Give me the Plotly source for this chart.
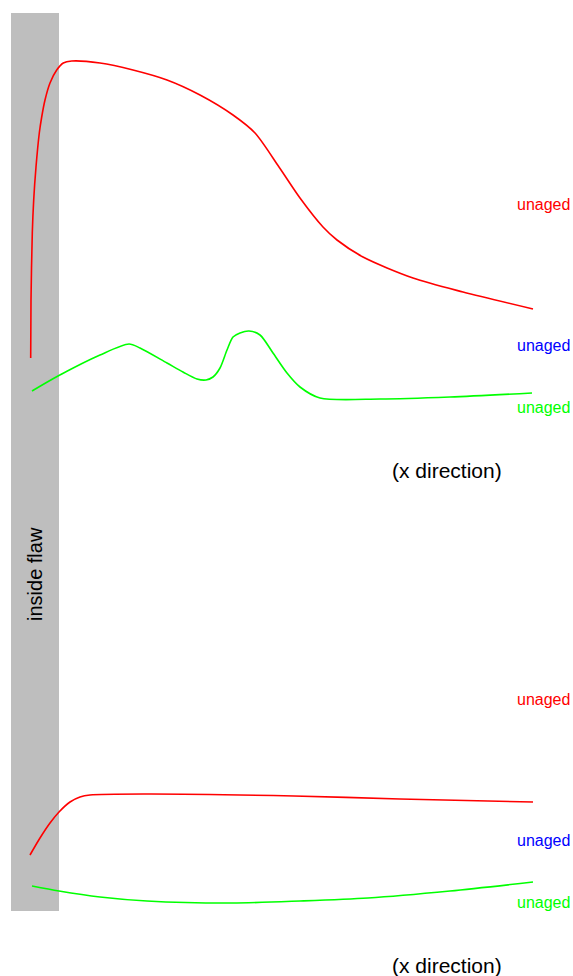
import plotly.graph_objects as go

# ---- data (units: horizontal position, vertical position with 0 at top) ----
top_red_x = [30.7, 31, 32.3, 33.7, 36, 39.3, 41.7, 45, 50, 56.7, 63.3, 71.7, 100, 133, 167, 200, 233, 255, 279, 300, 323, 337, 363, 413, 463, 533]
top_red_y = [358, 300, 233, 200, 167, 133, 117, 100, 83, 70, 63, 61, 63, 70, 80, 95, 115, 133, 167, 198, 227, 240, 257, 278, 292, 309]

top_green_x = [32, 58, 100, 129, 140, 167, 183, 197, 206, 213, 220, 227, 233, 240, 249, 260, 273, 287, 300, 320, 380, 450, 532]
top_green_y = [391, 376, 355, 344, 348, 363, 372, 379, 380, 377, 368, 350, 337, 333, 331, 335, 353, 373, 387, 398, 399, 397, 393]

bot_red_x = [30, 40, 50, 59, 70, 80, 90, 147, 294, 400, 533]
bot_red_y = [855, 838, 823, 812, 802, 797, 795, 794, 796, 799, 802]

bot_green_x = [32, 59, 100, 147, 232, 300, 368, 450, 533]
bot_green_y = [886, 891, 897, 901, 903, 901, 898, 891, 882]

label_text = "unaged"
label_colors = ["#ff0000", "#0000ff", "#00ff00"]
top_label_y = [204, 345, 407]
bot_label_y = [699, 840, 902]
axis_note = "(x direction)"
axis_note_y = [470, 965]
flaw_text = "inside flaw"

FONT = "Arial, 'Liberation Sans', sans-serif"

fig = go.Figure()

# grey flaw band
fig.add_shape(type="rect", x0=11, x1=59, y0=13, y1=911, xref="x", yref="y",
              fillcolor="#bebebe", line_width=0, layer="below")

for xs, ys, col in [(top_red_x, top_red_y, "#ff0000"),
                    (top_green_x, top_green_y, "#00ff00"),
                    (bot_red_x, bot_red_y, "#ff0000"),
                    (bot_green_x, bot_green_y, "#00ff00")]:
    fig.add_trace(go.Scatter(x=xs, y=ys, mode="lines",
                             line=dict(color=col, width=1.6, shape="spline", smoothing=0.8),
                             hoverinfo="skip", showlegend=False))

for ys in (top_label_y, bot_label_y):
    for y, c in zip(ys, label_colors):
        fig.add_annotation(x=572, y=y, text=label_text, showarrow=False,
                           xanchor="right", yanchor="middle",
                           font=dict(family=FONT, size=16, color=c))

for y in axis_note_y:
    fig.add_annotation(x=446.5, y=y, text=axis_note, showarrow=False,
                       xanchor="center", yanchor="middle",
                       font=dict(family=FONT, size=21, color="#000000"))

fig.add_annotation(x=35, y=574, text=flaw_text, showarrow=False, textangle=-90,
                   xanchor="center", yanchor="middle",
                   font=dict(family=FONT, size=20, color="#000000"))

fig.update_xaxes(range=[0, 573], visible=False, fixedrange=True)
fig.update_yaxes(range=[976, 0], visible=False, fixedrange=True)
fig.update_layout(width=573, height=976,
                  margin=dict(l=0, r=0, t=0, b=0),
                  plot_bgcolor="white", paper_bgcolor="white")

fig.write_html(
    "out.html",
    config={"displayModeBar": False},
    post_script="document.body.style.margin='0';document.body.style.overflow='hidden';",
)
